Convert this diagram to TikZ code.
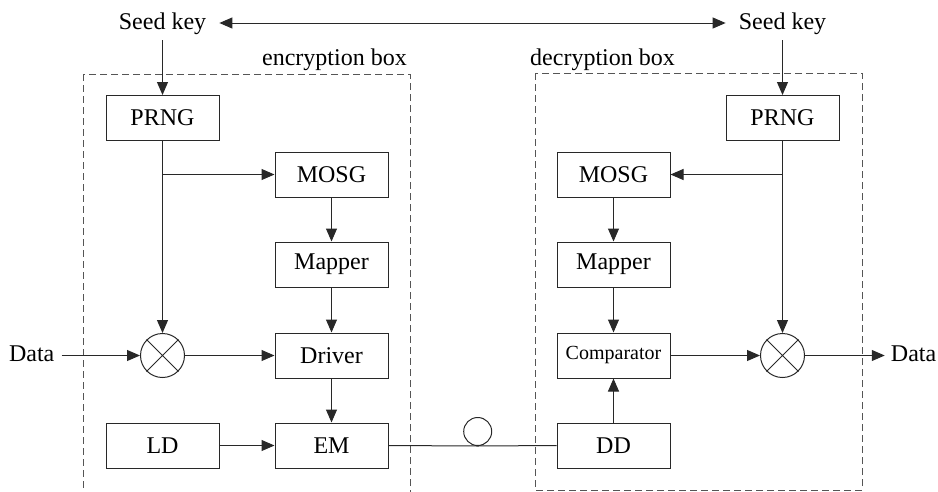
\documentclass[tikz,border=0pt]{standalone}
\usepackage{fontspec}
\setmainfont{Liberation Serif}
\newfontfamily\timesfont{Liberation Serif}
\usetikzlibrary{arrows.meta}
\definecolor{dashgray}{RGB}{85,85,85}
\definecolor{linegray}{RGB}{40,40,40}
\begin{document}
\begin{tikzpicture}[x=1pt,y=-1pt,
  every node/.style={font=\timesfont\fontsize{24}{28}\selectfont},
  blk/.style={draw=linegray,line width=1pt,minimum width=113pt,minimum height=45pt,inner sep=0pt},
  xorc/.style={draw=linegray,line width=1pt,circle,minimum size=44pt,inner sep=0pt},
  lbl/.style={inner ysep=6pt,text height=17pt,text depth=5pt},
  arr/.style={draw=linegray,line width=1pt,-{Triangle[length=13pt,width=11pt]}},
  plain/.style={draw=linegray,line width=1pt},
  dbox/.style={draw=dashgray,line width=1pt,dash pattern=on 7pt off 4pt}]
\useasboundingbox (0,0) rectangle (938,491);
\clip (0,0) rectangle (938,491);
% dashed boxes
\draw[dbox] (83,74) rectangle (410,496);
\draw[dbox] (535,73) rectangle (862,490);
\node[anchor=base east,inner sep=0pt] (enclbl) at (407,65) {encryption box};
\node[anchor=base west,inner sep=0pt] (declbl) at (530,65) {decryption box};
% seed keys
\node[lbl,inner xsep=13pt] (seedL) at (162.5,23) {Seed key};
\node[lbl,inner xsep=13pt] (seedR) at (782.5,23) {Seed key};
\draw[draw=linegray,line width=1pt,{Triangle[length=13pt,width=11pt]}-{Triangle[length=13pt,width=11pt]}] (seedL.east) -- (seedR.west);
% encryption side
\node[blk] (prngL) at (162.5,118) {PRNG};
\node[blk] (mosgL) at (331.5,174.5) {MOSG};
\node[blk] (mapL) at (331.5,264.5) {Mapper};
\node[blk] (drv) at (331.5,355.5) {Driver};
\node[blk] (em) at (331.5,445.5) {EM};
\node[blk] (ld) at (162.5,445.5) {LD};
\node[xorc] (xorL) at (162.5,355.5) {};
\draw[plain] (xorL.north west) -- (xorL.south east) (xorL.north east) -- (xorL.south west);
\node[lbl,inner xsep=7pt] (dataL) at (31.7,355.5) {Data};
% decryption side
\node[blk] (prngR) at (782.5,118) {PRNG};
\node[blk] (mosgR) at (613.5,174.5) {MOSG};
\node[blk] (mapR) at (613.5,264.5) {Mapper};
\node[blk,font=\timesfont\fontsize{20}{24}\selectfont] (cmp) at (613.5,355.5) {Comparator};
\node[blk] (dd) at (613.5,445.5) {DD};
\node[xorc] (xorR) at (782.5,355.5) {};
\draw[plain] (xorR.north west) -- (xorR.south east) (xorR.north east) -- (xorR.south west);
\node[lbl,inner xsep=6pt] (dataR) at (913.6,355.5) {Data};
% fiber loop
\node[draw=linegray,line width=1pt,circle,minimum size=28pt,inner sep=0pt] (loop) at (477.7,431.5) {};
% connectors encryption
\draw[arr] (seedL.south) -- (prngL.north);
\draw[arr] (prngL.south) -- (xorL.north);
\coordinate (brL) at (prngL.south |- mosgL.west);
\draw[arr] (brL) -- (mosgL.west);
\draw[arr] (mosgL) -- (mapL);
\draw[arr] (mapL) -- (drv);
\draw[arr] (drv) -- (em);
\draw[arr] (dataL.east) -- (xorL.west);
\draw[arr] (xorL.east) -- (drv.west);
\draw[arr] (ld) -- (em);
% connectors decryption
\draw[arr] (seedR.south) -- (prngR.north);
\draw[arr] (prngR.south) -- (xorR.north);
\coordinate (brR) at (prngR.south |- mosgR.east);
\draw[arr] (brR) -- (mosgR.east);
\draw[arr] (mosgR) -- (mapR);
\draw[arr] (mapR) -- (cmp);
\draw[arr] (dd) -- (cmp);
\draw[arr] (cmp.east) -- (xorR.west);
\draw[arr] (xorR.east) -- (dataR.west);
% fiber
\draw[plain] (em.east) -- (loop.south) -- (dd.west);
\end{tikzpicture}
\end{document}
